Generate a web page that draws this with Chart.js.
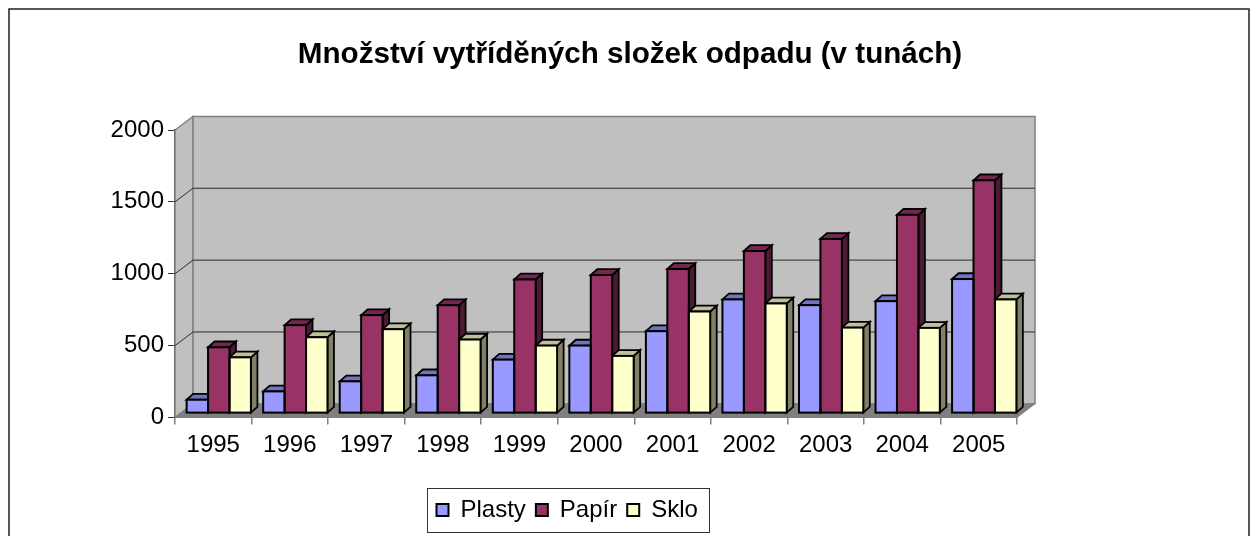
<!DOCTYPE html>
<html lang="cs">
<head>
<meta charset="utf-8">
<title>Množství vytříděných složek odpadu</title>
<script src="https://cdn.jsdelivr.net/npm/chart.js@4/dist/chart.umd.min.js"></script>
<style>
    html, body { margin: 0; padding: 0; background: #fff; overflow: hidden; }
    canvas { display: block; }
</style>
</head>
<body>
<canvas id="odpadChart" width="1260" height="536"></canvas>
<script>
// Data
const roky = ["1995","1996","1997","1998","1999","2000","2001","2002","2003","2004","2005"];
const plasty = [93, 151, 221, 263, 372, 470, 570, 791, 751, 779, 933];
const papir = [458, 612, 682, 751, 930, 961, 1003, 1128, 1212, 1380, 1620];
const sklo = [388, 528, 584, 512, 470, 398, 707, 763, 595, 593, 791];
const nazvy = ["Plasty", "Papír", "Sklo"];
const yMax = 2000;
const yStep = 500;

const FONT = "'Liberation Sans', Arial, sans-serif";

// Fake 3D: depth of the whole box, and of one bar
const boxDx = 18, boxDy = 13.6;
const barDx = 6.5, barDy = 5.8;
const shiftX = 5.5, shiftY = -4.3;

const barvy = [
    { front: "#9999FF", top: "#7373BF", side: "#4D4D80" },
    { front: "#993366", top: "#732650", side: "#4D1A33" },
    { front: "#FFFFCC", top: "#BFBF99", side: "#808066" }
];

function poly(ctx, pts, fill, stroke, lw) {
    ctx.beginPath();
    pts.forEach((p, i) => i ? ctx.lineTo(p[0], p[1]) : ctx.moveTo(p[0], p[1]));
    ctx.closePath();
    if (fill) { ctx.fillStyle = fill; ctx.fill(); }
    if (stroke) { ctx.strokeStyle = stroke; ctx.lineWidth = lw; ctx.stroke(); }
}

// Frame, legend box, walls and floor
const pozadi = {
    id: "pozadi",
    beforeDatasetsDraw(chart) {
        const { ctx, chartArea: a, scales: { y } } = chart;
        ctx.save();
        poly(ctx, [[a.left, a.top], [a.left + boxDx, a.top - boxDy], [a.left + boxDx, a.bottom - boxDy], [a.left, a.bottom]], "#C0C0C0", "#808080", 1.5);
        poly(ctx, [[a.left + boxDx, a.top - boxDy], [a.right + boxDx, a.top - boxDy], [a.right + boxDx, a.bottom - boxDy], [a.left + boxDx, a.bottom - boxDy]], "#C0C0C0", "#808080", 1.5);
        poly(ctx, [[a.left, a.bottom], [a.left + boxDx, a.bottom - boxDy], [a.right + boxDx, a.bottom - boxDy], [a.right, a.bottom]], "#808080", "#808080", 1);

        ctx.strokeStyle = "#2b2b2b";
        ctx.lineWidth = 1;
        [500, 1000, 1500].forEach(v => {
            const py = y.getPixelForValue(v);
            ctx.beginPath();
            ctx.moveTo(a.left, py);
            ctx.lineTo(a.left + boxDx, py - boxDy);
            ctx.lineTo(a.right + boxDx, py - boxDy);
            ctx.stroke();
        });

        // side and top faces go under the fronts the library draws afterwards
        ctx.translate(shiftX, shiftY);
        chart.data.datasets.forEach((ds, d) => {
            chart.getDatasetMeta(d).data.forEach(bar => {
                const l = bar.x - bar.width / 2, r = bar.x + bar.width / 2;
                poly(ctx, [[r, bar.y], [r + barDx, bar.y - barDy], [r + barDx, bar.base - barDy], [r, bar.base]], barvy[d].side, "#000", 1.8);
                poly(ctx, [[l, bar.y], [l + barDx, bar.y - barDy], [r + barDx, bar.y - barDy], [r, bar.y]], barvy[d].top, "#000", 1.8);
            });
        });
        ctx.restore();

        // fronts
        ctx.save();
        ctx.translate(shiftX, shiftY);
    },
    afterDatasetsDraw(chart) {
        const ctx = chart.ctx;
        // outline of the fronts, centred on the edges so neighbours share one line
        ctx.strokeStyle = "#000";
        ctx.lineWidth = 2;
        chart.data.datasets.forEach((ds, d) => {
            chart.getDatasetMeta(d).data.forEach(bar => {
                ctx.strokeRect(bar.x - bar.width / 2, bar.y, bar.width, bar.base - bar.y);
            });
        });
        ctx.restore();
    },
    beforeDraw(chart) {
        const ctx = chart.ctx;
        ctx.save();
        ctx.strokeStyle = "#222";
        ctx.lineWidth = 1.5;
        ctx.strokeRect(9, 9, 1240, 560);
        ctx.strokeStyle = "#333";
        ctx.lineWidth = 1;
        ctx.strokeRect(427.5, 488.5, 282, 44);
        ctx.restore();
    },
    afterLayout(chart) {
        // title centred on the whole frame, legend left of centre in its own box
        chart.titleBlock.left = 0;
        chart.titleBlock.right = 1260;
        const lg = chart.legend;
        const w = lg.right - lg.left, h = lg.bottom - lg.top;
        lg.left = 426.5;
        lg.right = 426.5 + w;
        lg.top = 488;
        lg.bottom = 488 + h;
    }
};

new Chart(document.getElementById("odpadChart"), {
    type: "bar",
    plugins: [pozadi],
    data: {
        labels: roky,
        datasets: [plasty, papir, sklo].map((vals, i) => ({
            label: nazvy[i],
            data: vals,
            backgroundColor: barvy[i].front,
            borderColor: "#000",
            borderWidth: 0,
            categoryPercentage: 0.84,
            barPercentage: 1
        }))
    },
    options: {
        responsive: false,
        animation: false,
        layout: { padding: { left: 10, right: 243, bottom: 34.6 } },
        scales: {
            x: {
                grid: { drawOnChartArea: false, color: "#808080", tickLength: 7, lineWidth: 1.5 },
                border: { color: "#808080", width: 2 },
                ticks: { color: "#000", font: { family: FONT, size: 24 }, padding: 7, maxRotation: 0 },
                afterFit(scale) { scale.height = 40; }
            },
            y: {
                min: 0,
                max: yMax,
                grid: { drawOnChartArea: false, color: "#333", tickLength: 7, lineWidth: 1 },
                border: { color: "#333", width: 2 },
                ticks: { stepSize: yStep, color: "#000", font: { family: FONT, size: 24 }, padding: 4, callback: v => String(v) },
                afterFit(scale) { scale.width = 165; }
            }
        },
        plugins: {
            title: {
                display: true,
                text: "Množství vytříděných složek odpadu (v tunách)",
                color: "#000",
                font: { family: FONT, size: 29.6, weight: "bold" },
                padding: { top: 37, bottom: 57.5 }
            },
            legend: {
                position: "bottom",
                align: "start",
                labels: {
                    color: "#000",
                    font: { family: FONT, size: 24 },
                    boxWidth: 12,
                    boxHeight: 12,
                    padding: 10,
                    generateLabels(chart) {
                        const items = Chart.defaults.plugins.legend.labels.generateLabels(chart);
                        items.forEach(it => { it.lineWidth = 2; });
                        return items;
                    }
                }
            },
            tooltip: { enabled: false }
        }
    }
});
</script>
</body>
</html>
